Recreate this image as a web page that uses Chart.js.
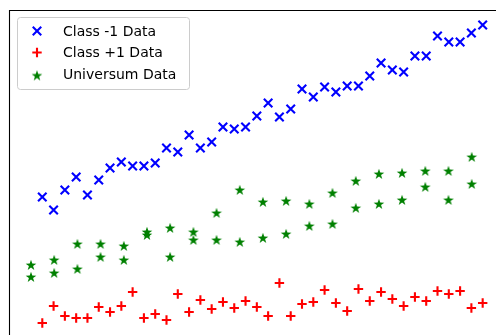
<!DOCTYPE html>
<html>
<head>
<meta charset="utf-8">
<script src="https://cdn.jsdelivr.net/npm/chart.js"></script>
<style>
  html, body { margin: 0; padding: 0; background: #fff; }
  canvas { display: block; }
</style>
</head>
<body>
<canvas id="scatter_chart" width="496" height="335"></canvas>
<script>
// x positions of both classes
const classX = [
  1, 2, 3, 4, 5, 6, 7, 8, 9, 10,
  11, 12, 13, 14, 15, 16, 17, 18, 19, 20,
  21, 22, 23, 24, 25, 26, 27, 28, 29, 30,
  31, 32, 33, 34, 35, 36, 37, 38, 39, 40,
];
// universum points come in pairs on a slightly wider step
const universumX = [
  0, 2.05, 4.11, 6.16, 8.22, 10.27, 12.32, 14.38, 16.43, 18.49,
  20.54, 22.59, 24.65, 26.7, 28.76, 30.81, 32.86, 34.92, 36.97, 39.03,
];

const classMinus = [
  13.3, 12.0, 14.0, 15.3, 13.5, 15.0, 16.2, 16.8, 16.4, 16.4,
  16.7, 18.2, 17.8, 19.5, 18.2, 18.8, 20.3, 20.1, 20.3, 21.4,
  22.7, 21.3, 22.1, 24.1, 23.3, 24.3, 23.8, 24.4, 24.4, 25.4,
  26.7, 26.0, 25.8, 27.4, 27.4, 29.4, 28.8, 28.8, 29.7, 30.5,
];
const classPlus = [
  0.7, 2.4, 1.4, 1.2, 1.2, 2.3, 1.8, 2.4, 3.8, 1.2,
  1.6, 1.0, 3.6, 1.8, 3.0, 2.1, 2.8, 2.2, 2.9, 2.3,
  1.4, 4.7, 1.4, 2.6, 2.8, 4.0, 2.7, 1.9, 4.1, 2.9,
  3.8, 3.1, 2.4, 3.3, 2.9, 3.9, 3.6, 3.9, 2.2, 2.7,
];
const universumUpper = [
  6.5, 7.0, 8.6, 8.6, 8.4, 9.8, 10.2, 9.8, 11.7, 14.0,
  12.8, 12.9, 12.6, 13.7, 14.9, 15.6, 15.7, 15.9, 15.9, 17.3,
];
const universumLower = [
  5.3, 5.7, 6.1, 7.3, 7.0, 9.5, 7.3, 9.0, 9.0, 8.8,
  9.2, 9.6, 10.4, 10.6, 12.2, 12.6, 13.0, 14.3, 13.0, 14.6,
];
const labels = ["Class -1 Data", "Class +1 Data", "Universum Data"];

// filled star marker like matplotlib's '*'
const makeStar = (color) => {
  const c = document.createElement("canvas");
  c.width = 12;
  c.height = 12;
  const g = c.getContext("2d");
  g.beginPath();
  for (let k = 0; k < 10; k++) {
    const r = k % 2 === 0 ? 5.6 : 2.2;
    const a = -Math.PI / 2 + (k * Math.PI) / 5;
    const px = 6 + r * Math.cos(a);
    const py = 6.4 + r * Math.sin(a);
    k === 0 ? g.moveTo(px, py) : g.lineTo(px, py);
  }
  g.closePath();
  g.fillStyle = color;
  g.fill();
  return c;
};
const starIcon = makeStar("#008000");

const pairs = (xs, ys) => ys.map((y, i) => ({ x: xs[i], y }));

// left/top spines (the rest is cut off in the picture)
const frame = {
  id: "frame",
  afterDraw(chart) {
    const { ctx, chartArea } = chart;
    ctx.save();
    ctx.strokeStyle = "#000";
    ctx.lineWidth = 1.1;
    ctx.beginPath();
    ctx.moveTo(chartArea.left + 0.5, chart.height);
    ctx.lineTo(chartArea.left + 0.5, chartArea.top + 0.5);
    ctx.lineTo(chart.width, chartArea.top + 0.5);
    ctx.stroke();
    ctx.restore();
  },
};

// matplotlib-like legend box in the upper left corner
const boxLegend = {
  id: "boxLegend",
  afterDraw(chart) {
    const { ctx } = chart;
    const x0 = 17, y0 = 17, w = 172, h = 72, r = 3;
    ctx.save();
    ctx.beginPath();
    ctx.roundRect(x0 + 0.5, y0 + 0.5, w, h, r);
    ctx.fillStyle = "rgba(255,255,255,0.8)";
    ctx.fill();
    ctx.strokeStyle = "#cccccc";
    ctx.lineWidth = 1;
    ctx.stroke();

    const rows = [31, 52.5, 75.5];
    const baselines = [35.5, 57, 79];
    ctx.font = '14px "DejaVu Sans"';
    ctx.textBaseline = "alphabetic";
    chart.data.datasets.forEach((ds, i) => {
      ctx.strokeStyle = ds.borderColor;
      ctx.fillStyle = ds.backgroundColor;
      ctx.lineWidth = ds.borderWidth;
      Chart.helpers.drawPoint(
        ctx,
        {
          pointStyle: ds.pointStyle,
          radius: ds.pointRadius,
          rotation: 0,
          borderWidth: ds.borderWidth,
        },
        37,
        rows[i]
      );
      ctx.fillStyle = "#000";
      ctx.fillText(ds.label, 63, baselines[i]);
    });
    ctx.restore();
  },
};

const ctx = document.getElementById("scatter_chart").getContext("2d");
new Chart(ctx, {
  type: "scatter",
  data: {
    datasets: [
      {
        label: labels[0],
        data: pairs(classX, classMinus),
        pointStyle: "crossRot",
        pointRadius: 6,
        borderColor: "#0000ff",
        backgroundColor: "#0000ff",
        borderWidth: 2.1,
      },
      {
        label: labels[1],
        data: pairs(classX, classPlus),
        pointStyle: "cross",
        pointRadius: 4.7,
        borderColor: "#ff0000",
        backgroundColor: "#ff0000",
        borderWidth: 2.1,
      },
      {
        label: labels[2],
        data: pairs(universumX, universumUpper).concat(pairs(universumX, universumLower)),
        pointStyle: starIcon,
        pointRadius: 5,
        borderColor: "#008000",
        backgroundColor: "#008000",
        borderWidth: 0,
      },
    ],
  },
  options: {
    responsive: false,
    animation: false,
    events: [],
    devicePixelRatio: 1,
    // no extra padding for marker overflow, so the area is 9..496 x 10..335
    layout: { autoPadding: false, padding: { left: 9, top: 10, right: 0, bottom: 0 } },
    plugins: { legend: { display: false }, tooltip: { enabled: false } },
    scales: {
      x: { type: "linear", display: false, min: -1.948, max: 41.18 },
      y: { type: "linear", display: false, min: -0.5, max: 32 },
    },
  },
  plugins: [frame, boxLegend],
});
</script>
</body>
</html>
